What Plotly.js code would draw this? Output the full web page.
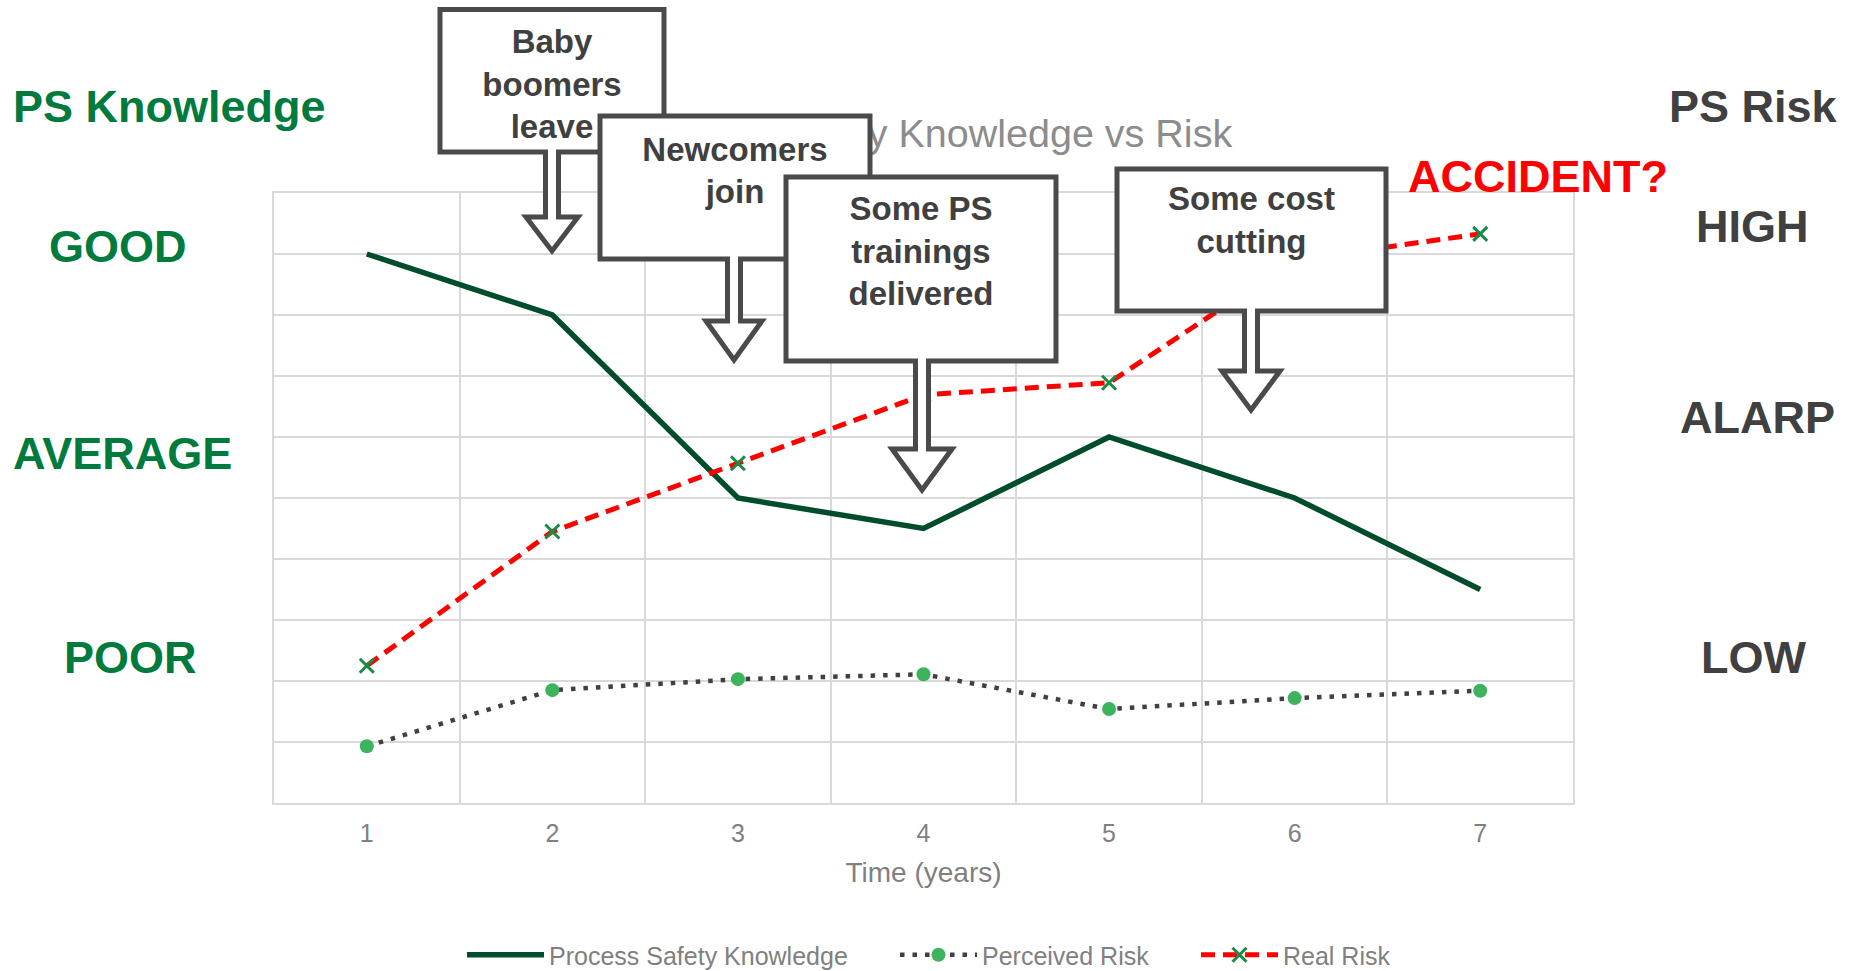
<!DOCTYPE html>
<html><head><meta charset="utf-8">
<script src="https://cdn.plot.ly/plotly-3.0.1.min.js"></script>
<style>html,body{margin:0;padding:0;background:#fff;}#chart{width:1855px;height:971px;}</style>
</head><body><div id="chart"></div>
<script>
// ---------- data ----------
const years = ['1', '2', '3', '4', '5', '6', '7'];
const knowledge = [9, 8, 5, 4.5, 6, 5, 3.5];
const perceivedRisk = [0.93, 1.85, 2.03, 2.11, 1.54, 1.72, 1.84];
const realRisk = [2.25, 4.45, 5.57, 6.69, 6.89, 8.9, 9.33];
const seriesNames = ['Process Safety Knowledge', 'Perceived Risk', 'Real Risk'];
const chartTitle = 'Process Safety Knowledge vs Risk';
const xTitle = 'Time (years)';
const knowledgeHeading = 'PS Knowledge';
const knowledgeLevels = ['GOOD', 'AVERAGE', 'POOR'];
const riskHeading = 'PS Risk';
const riskLevels = ['HIGH', 'ALARP', 'LOW'];
const warningText = 'ACCIDENT?';
const eventLines = [
  ['Baby', 'boomers', 'leave'],
  ['Newcomers', 'join'],
  ['Some PS', 'trainings', 'delivered'],
  ['Some cost', 'cutting']
];

// ---------- layout geometry (pixels) ----------
const W = 1855, H = 971;
const L = 274, T = 193, PW = 1299, PH = 610;
const fx = p => (p - L) / PW;
const fy = p => (T + PH - p) / PH;
const FONT = 'Liberation Sans, Arial, Helvetica, sans-serif';
const BOXC = '#4a4a4a';

const calloutGeo = [
  {l: 440, t: 9.5, r: 664, b: 152, cx: 552, sw: 6.5, hw: 26, head: 217, tip: 251, mid: 81},
  {l: 600, t: 116, r: 870, b: 259, cx: 734, sw: 6.5, hw: 28, head: 321, tip: 360, mid: 167.5},
  {l: 786, t: 177, r: 1056, b: 361, cx: 922, sw: 6.5, hw: 30, head: 449, tip: 490, mid: 248},
  {l: 1117, t: 169, r: 1386, b: 311, cx: 1251, sw: 6.5, hw: 29, head: 371, tip: 410, mid: 217}
];

function pt(x, y) { return fx(x).toFixed(5) + ',' + fy(y).toFixed(5); }

const shapes = [];
// chart title (drawn beneath the callouts, as in the original)
shapes.push({
  type: 'rect', xref: 'paper', yref: 'paper', layer: 'above',
  x0: fx(562), x1: fx(1292), y0: fy(158), y1: fy(100),
  line: {width: 0}, fillcolor: 'rgba(0,0,0,0)',
  label: {text: chartTitle, textposition: 'middle center',
          font: {family: FONT, size: 39.5, color: '#8c8c8c'}}
});
calloutGeo.forEach((g, i) => {
  const d = 'M' + pt(g.l, g.t) + ' L' + pt(g.r, g.t) + ' L' + pt(g.r, g.b) +
    ' L' + pt(g.cx + g.sw, g.b) + ' L' + pt(g.cx + g.sw, g.head) +
    ' L' + pt(g.cx + g.hw, g.head) + ' L' + pt(g.cx, g.tip) +
    ' L' + pt(g.cx - g.hw, g.head) + ' L' + pt(g.cx - g.sw, g.head) +
    ' L' + pt(g.cx - g.sw, g.b) + ' L' + pt(g.l, g.b) + ' Z';
  shapes.push({
    type: 'path', xref: 'paper', yref: 'paper', layer: 'above', path: d,
    line: {color: BOXC, width: 5}, fillcolor: '#ffffff'
  });
  shapes.push({
    type: 'rect', xref: 'paper', yref: 'paper', layer: 'above',
    x0: fx(g.l), x1: fx(g.r), y0: fy(g.mid + 60), y1: fy(g.mid - 60),
    line: {width: 0}, fillcolor: 'rgba(0,0,0,0)',
    label: {text: eventLines[i].map(s => '<b>' + s + '</b>').join('<br>'),
            textposition: 'middle center',
            font: {family: FONT, size: 33, color: '#404040'}}
  });
});

function ann(text, x, y, color) {
  return {xref: 'paper', yref: 'paper', x: fx(x), y: fy(y), text: '<b>' + text + '</b>',
          showarrow: false, xanchor: 'center', yanchor: 'middle',
          font: {family: FONT, size: 45, color: color}};
}
const GREEN = '#007a3d', DARK = '#404040';
const annotations = [
  ann(knowledgeHeading, 169.5, 107, GREEN),
  ann(knowledgeLevels[0], 118.3, 246.5, GREEN),
  ann(knowledgeLevels[1], 122.8, 453, GREEN),
  ann(knowledgeLevels[2], 130.5, 657.5, GREEN),
  ann(riskHeading, 1753.5, 106, DARK),
  ann(riskLevels[0], 1752.6, 226, DARK),
  ann(riskLevels[1], 1757.7, 417.5, DARK),
  ann(riskLevels[2], 1753.6, 657.5, DARK),
  ann(warningText, 1537.7, 176.5, '#ff0000')
];

const traces = [
  {x: years, y: knowledge, name: seriesNames[0], type: 'scatter', mode: 'lines',
   line: {color: '#004d2c', width: 5.5}, legend: 'legend'},
  {x: years, y: perceivedRisk, name: seriesNames[1], type: 'scatter', mode: 'lines+markers',
   line: {color: '#404040', width: 4.5, dash: '4.5px,8px'},
   marker: {color: '#3cb35c', size: 14}, legend: 'legend2'},
  {x: years, y: realRisk, name: seriesNames[2], type: 'scatter', mode: 'lines+markers',
   line: {color: '#ff0000', width: 5, dash: '14px,8px'},
   marker: {symbol: 'x-thin', size: 14, color: '#1a8a47', line: {color: '#1a8a47', width: 3}},
   legend: 'legend3'}
];

function leg(xpx) {
  return {x: fx(xpx), y: fy(955), xanchor: 'left', yanchor: 'middle', orientation: 'h',
          font: {family: FONT, size: 25, color: '#808080'}, itemwidth: 77,
          bgcolor: 'rgba(0,0,0,0)', borderwidth: 0};
}

const layout = {
  width: W, height: H, autosize: false,
  margin: {l: L, r: W - L - PW, t: T, b: H - T - PH, pad: 0, autoexpand: false},
  paper_bgcolor: '#ffffff', plot_bgcolor: '#ffffff',
  font: {family: FONT, color: '#808080'},
  showlegend: true,
  xaxis: {type: 'category', range: [-0.5, 6.5], tickson: 'boundaries', showgrid: true,
          gridcolor: '#d9d9d9', gridwidth: 2,
          ticks: '', showline: true, mirror: true, linecolor: '#d9d9d9', linewidth: 2, zeroline: false,
          tickfont: {family: FONT, size: 25, color: '#808080'}, ticklabelstandoff: 7,
          title: {text: xTitle, font: {family: FONT, size: 28, color: '#808080'}, standoff: 16}},
  yaxis: {range: [0, 10], dtick: 1, tick0: 0, showticklabels: false, showgrid: true,
          gridcolor: '#d9d9d9', gridwidth: 2, zeroline: false, showline: true, mirror: true,
          linecolor: '#d9d9d9', linewidth: 2, ticks: ''},
  legend: leg(462),
  legend2: leg(895),
  legend3: leg(1196),
  shapes: shapes,
  annotations: annotations
};

Plotly.newPlot('chart', traces, layout, {displayModeBar: false, staticPlot: true});
</script>
</body></html>
